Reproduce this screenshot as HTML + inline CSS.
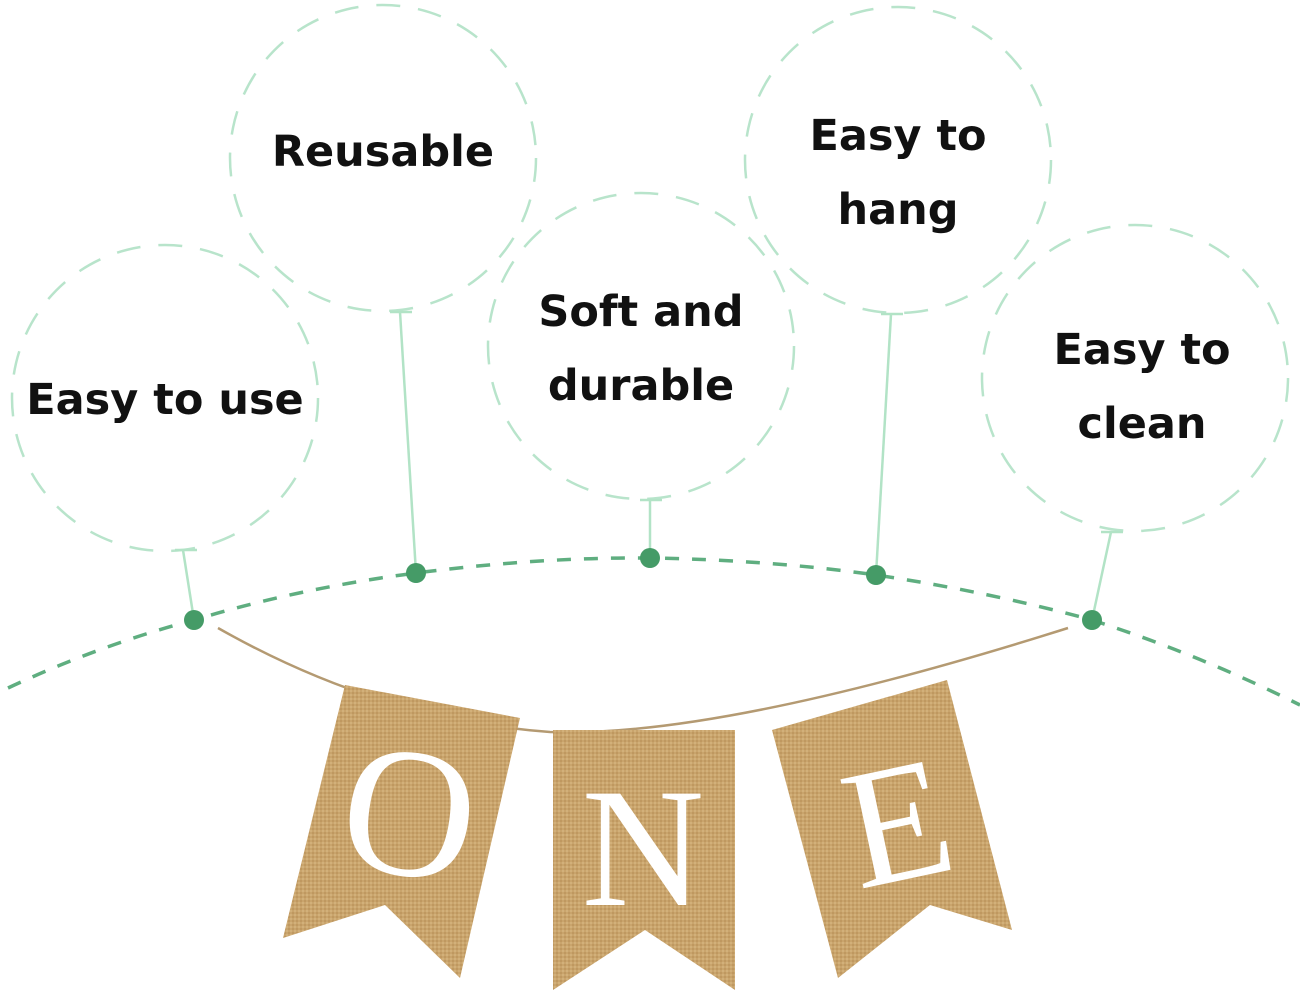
<!DOCTYPE html>
<html><head><meta charset="utf-8"><style>
html,body{margin:0;padding:0;background:#fff;}
svg{display:block;}
text{font-family:"DejaVu Sans","Liberation Sans",sans-serif;font-weight:bold;fill:#111;}
</style></head><body>
<svg width="1300" height="1000" viewBox="0 0 1300 1000" xmlns="http://www.w3.org/2000/svg">
<defs>
<pattern id="burlap" width="4" height="4" patternUnits="userSpaceOnUse">
<rect width="4" height="4" fill="#c9a46c"/>
<rect width="2" height="2" fill="#bf9860"/>
<rect x="2" y="2" width="2" height="2" fill="#d2b07a"/>
</pattern>
</defs>
<g fill="none" stroke="#b8e4cb" stroke-width="2.5" stroke-dasharray="24 18">
<circle cx="165" cy="398" r="153"/>
<circle cx="383" cy="158" r="153"/>
<circle cx="641" cy="346" r="153"/>
<circle cx="898" cy="160" r="153"/>
<circle cx="1135" cy="378" r="153"/>
</g>
<g stroke="#b2e3c6" stroke-width="2.5" fill="none">
<line x1="183" y1="550" x2="194" y2="620"/><line x1="175" y1="550" x2="197" y2="550"/>
<line x1="400" y1="312" x2="416" y2="573"/><line x1="390" y1="312" x2="412" y2="312"/>
<line x1="650" y1="500" x2="650" y2="558"/><line x1="640" y1="500" x2="662" y2="500"/>
<line x1="891" y1="314" x2="876" y2="575"/><line x1="881" y1="314" x2="903" y2="314"/>
<line x1="1111" y1="532" x2="1092" y2="620"/><line x1="1101" y1="532" x2="1123" y2="532"/>
</g>
<path d="M8,688 Q100,645 194,620 Q300,588 416,573 Q540,557 650,558 Q770,560 876,575 Q990,592 1092,620 Q1200,655 1300,705" fill="none" stroke="#5fae80" stroke-width="3.5" stroke-dasharray="14 13"/>
<g fill="#459b67">
<circle cx="194" cy="620" r="10"/><circle cx="416" cy="573" r="10"/><circle cx="650" cy="558" r="10"/><circle cx="876" cy="575" r="10"/><circle cx="1092" cy="620" r="10"/>
</g>
<path d="M218,628 Q380,720 550,732 Q720,738 1068,628" fill="none" stroke="#b49a72" stroke-width="2.5"/>
<polygon points="345,685 520,718 460,978 385,905 283,938" fill="url(#burlap)"/>
<polygon points="553,730 735,730 735,990 645,930 553,990" fill="url(#burlap)"/>
<polygon points="772,730 947,680 1012,930 930,905 838,978" fill="url(#burlap)"/>
<text x="410" y="875" transform="rotate(8 410 810)" font-size="185" text-anchor="middle" style="font-family:'Liberation Serif',serif;font-weight:normal;fill:#fff">O</text>
<text x="643" y="905" font-size="170" text-anchor="middle" style="font-family:'Liberation Serif',serif;font-weight:normal;fill:#fff">N</text>
<text x="895" y="880" transform="rotate(-12 895 810)" font-size="170" text-anchor="middle" style="font-family:'Liberation Serif',serif;font-weight:normal;fill:#fff">E</text>
<g font-size="43" text-anchor="middle">
<text x="165" y="414">Easy to use</text>
<text x="383" y="166">Reusable</text>
<text x="641" y="326">Soft and</text>
<text x="641" y="400">durable</text>
<text x="898" y="150">Easy to</text>
<text x="898" y="224">hang</text>
<text x="1142" y="364">Easy to</text>
<text x="1142" y="438">clean</text>
</g>
</svg>
</body></html>
